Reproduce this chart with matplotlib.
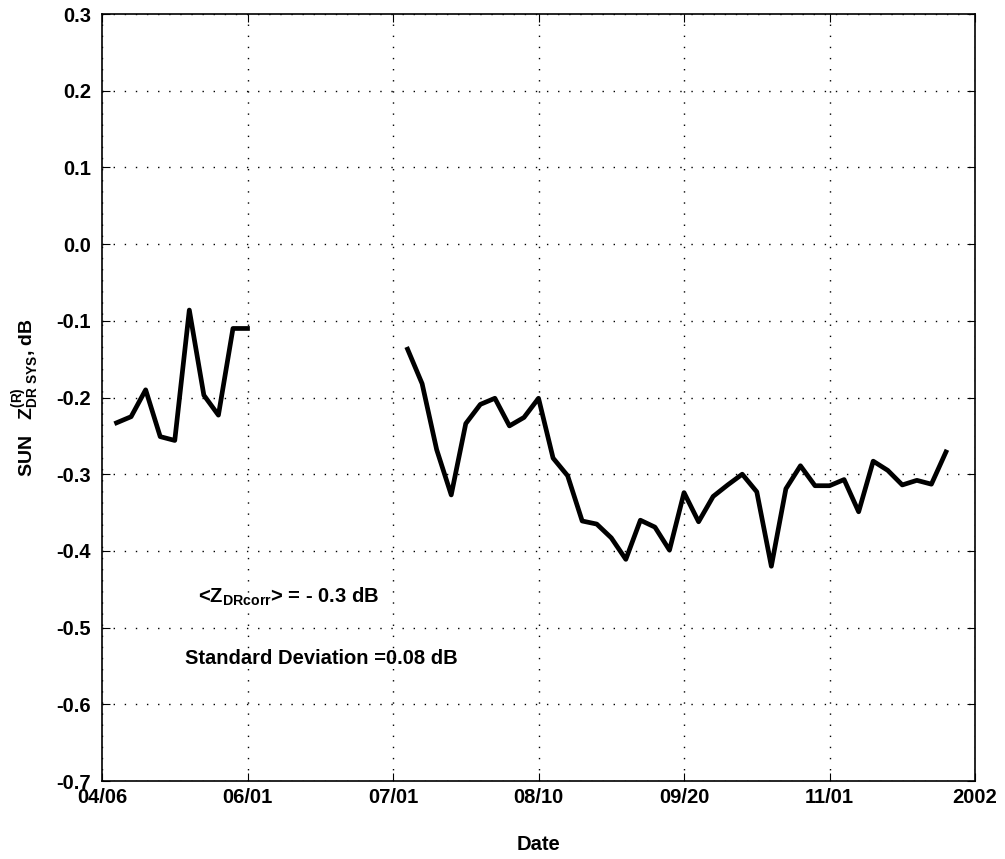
import matplotlib.pyplot as plt
import numpy as np

plt.rcParams['font.family'] = 'Liberation Sans'
plt.rcParams['font.weight'] = 'bold'
plt.rcParams['mathtext.fontset'] = 'custom'
plt.rcParams['mathtext.rm'] = 'Liberation Sans:bold'
plt.rcParams['mathtext.it'] = 'Liberation Sans:bold'
plt.rcParams['mathtext.bf'] = 'Liberation Sans:bold'
plt.rcParams['mathtext.default'] = 'bf'

# x in tick units (0 = 04/06, 6 = 2002)
x1 = [0.1, 0.2, 0.3, 0.4, 0.5, 0.6, 0.7, 0.8, 0.9, 1.0]
y1 = [-0.233, -0.225, -0.190, -0.251, -0.256, -0.086, -0.197, -0.223, -0.110, -0.110]

x2 = [2.1, 2.2, 2.3, 2.4, 2.5, 2.6, 2.7, 2.8, 2.9, 3.0, 3.1, 3.2, 3.3,
      3.4, 3.5, 3.6, 3.7, 3.8, 3.9, 4.0, 4.1, 4.2, 4.3, 4.4, 4.5, 4.6,
      4.7, 4.8, 4.9, 5.0, 5.1, 5.2, 5.3, 5.4, 5.5, 5.6, 5.7, 5.8]
y2 = [-0.137, -0.182, -0.268, -0.327, -0.234, -0.209, -0.201, -0.237, -0.226,
      -0.201, -0.279, -0.302, -0.361, -0.365, -0.383, -0.411, -0.360, -0.369,
      -0.399, -0.324, -0.362, -0.329, -0.314, -0.300, -0.323, -0.420, -0.319,
      -0.289, -0.315, -0.315, -0.307, -0.349, -0.283, -0.295, -0.314, -0.308,
      -0.313, -0.271]

xticklabels = ['04/06', '06/01', '07/01', '08/10', '09/20', '11/01', '2002']
yticks = np.round(np.arange(-0.7, 0.31, 0.1), 1)

fig = plt.figure(figsize=(10.05, 8.59), dpi=100)
ax = fig.add_axes([0.1015, 0.0908, 0.8687, 0.8929])

ax.plot(x1, y1, color='black', lw=3.4)
ax.plot(x2, y2, color='black', lw=3.4)

ax.set_xlim(0, 6)
ax.set_ylim(-0.7, 0.3)
ax.set_xticks(range(7))
ax.set_xticklabels(xticklabels)
ax.set_yticks(yticks)
ax.set_yticklabels(['%.1f' % v if v != 0 else '0.0' for v in yticks])
ax.tick_params(direction='in', top=True, right=True, length=6, labelsize=14.5)
ax.tick_params(axis='y', pad=8)
ax.tick_params(axis='x', pad=5)
ax.grid(True, color='black', linestyle=(0, (1, 7)), linewidth=1)

ax.set_xlabel('Date', fontsize=14.5, fontweight='bold', labelpad=20)
ax.set_ylabel(r'SUN   $Z^{(R)}_{DR\ SYS}$, dB', fontsize=14, fontweight='bold', labelpad=10)

ax.text(0.66, -0.468, r'<$Z_{DRcorr}$> = - 0.3 dB', fontsize=14.5, fontweight='bold')
ax.text(0.57, -0.547, 'Standard Deviation =0.08 dB', fontsize=14.5, fontweight='bold')

for s in ax.spines.values():
    s.set_linewidth(1.2)

fig.savefig('out.png', dpi=100)
